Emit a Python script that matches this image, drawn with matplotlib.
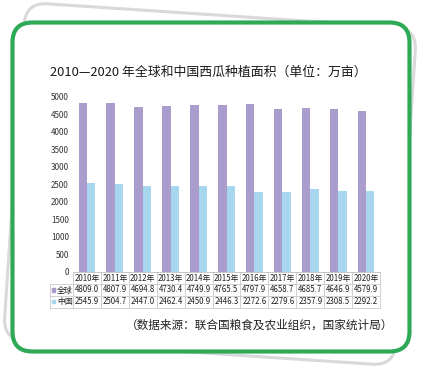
import matplotlib
matplotlib.use("Agg")
import matplotlib.pyplot as plt
from matplotlib.patches import FancyBboxPatch, Rectangle
from matplotlib.transforms import Affine2D, blended_transform_factory

plt.rcParams['font.family'] = ['Noto Sans CJK SC', 'DejaVu Sans']

# 数据
lata = ['2010年', '2011年', '2012年', '2013年', '2014年', '2015年',
        '2016年', '2017年', '2018年', '2019年', '2020年']
swiat = [4809.0, 4807.9, 4694.8, 4730.4, 4749.9, 4765.5,
         4797.9, 4658.7, 4685.7, 4646.9, 4579.9]
chiny = [2545.9, 2504.7, 2447.0, 2462.4, 2450.9, 2446.3,
         2272.6, 2279.6, 2357.9, 2308.5, 2292.2]
serie = ['全球', '中国']
kolory = ['#aa9dcd', '#a8d6ee']

fig = plt.figure(figsize=(4.26, 3.75), dpi=100)
fig.patch.set_facecolor('white')

# tlo w pikselach
bg = fig.add_axes([0, 0, 1, 1], zorder=0)
bg.set_xlim(0, 426)
bg.set_ylim(375, 0)
bg.axis('off')

rot = Affine2D().rotate_deg_around(210, 184, 3.8) + bg.transData
karta = FancyBboxPatch((14, 15), 392, 338, boxstyle="round,pad=0,rounding_size=22",
                       facecolor='white', edgecolor='#d9d9d9', linewidth=2.2, transform=rot)
bg.add_patch(karta)
ramka = FancyBboxPatch((12.5, 22.5), 397, 329, boxstyle="round,pad=0,rounding_size=20",
                       facecolor='white', edgecolor='#2eaa57', linewidth=3.0)
bg.add_patch(ramka)

bg.text(208, 72, '2010—2020 年全球和中国西瓜种植面积（单位：万亩）', ha='center', va='center',
        fontsize=9.3, color='#1a1a1a')
bg.text(393, 325, '（数据来源：联合国粮食及农业组织，国家统计局）', ha='right', va='center',
        fontsize=8.4, color='#222222')

# wykres
ax = fig.add_axes([73 / 426, (375 - 271.7) / 375, 307 / 426, 175 / 375], zorder=1)
ax.patch.set_alpha(0)
x = list(range(len(lata)))
w = 0.3
ax.bar([i - w / 2 for i in x], swiat, width=w, color=kolory[0])
ax.bar([i + w / 2 for i in x], chiny, width=w, color=kolory[1])
ax.set_xlim(-0.5, len(lata) - 0.5)
ax.set_ylim(0, 5000)
ax.set_yticks(range(0, 5001, 500))
ax.tick_params(axis='y', length=0, labelsize=5.8, labelcolor='#333333', pad=3)
ax.set_xticks([])
for s in ['top', 'right', 'left']:
    ax.spines[s].set_visible(False)
ax.spines['bottom'].set_color('#bdbdbd')
ax.spines['bottom'].set_linewidth(0.6)

# tabela
tr = blended_transform_factory(ax.transData, bg.transData)
lc = '#c9c9c9'
y0, y1, y2, y3 = 271.7, 284, 296, 307.5
lewo = 50
for i in range(len(lata) + 1):
    xx = i - 0.5
    ax.plot([xx, xx], [y0, y3], transform=tr, color=lc, lw=0.6, clip_on=False)
for yy in [y1, y2, y3]:
    bg.plot([lewo, 380], [yy, yy], color=lc, lw=0.6)
bg.plot([lewo, lewo], [y1, y3], color=lc, lw=0.6)
for i in x:
    ax.text(i, (y0 + y1) / 2 + 0.5, lata[i], transform=tr, ha='center', va='center',
            fontsize=5.7, color='#222222', clip_on=False)
    ax.text(i, (y1 + y2) / 2, '%.1f' % swiat[i], transform=tr, ha='center', va='center',
            fontsize=5.7, color='#222222', clip_on=False)
    ax.text(i, (y2 + y3) / 2, '%.1f' % chiny[i], transform=tr, ha='center', va='center',
            fontsize=5.7, color='#222222', clip_on=False)
for k, (yy, nazwa) in enumerate([((y1 + y2) / 2, serie[0]), ((y2 + y3) / 2, serie[1])]):
    bg.add_patch(Rectangle((52, yy - 1.7), 3.4, 3.4, color=kolory[k]))
    bg.text(57, yy, nazwa, ha='left', va='center', fontsize=5.7, color='#222222')

fig.savefig('out.png', dpi=100)
